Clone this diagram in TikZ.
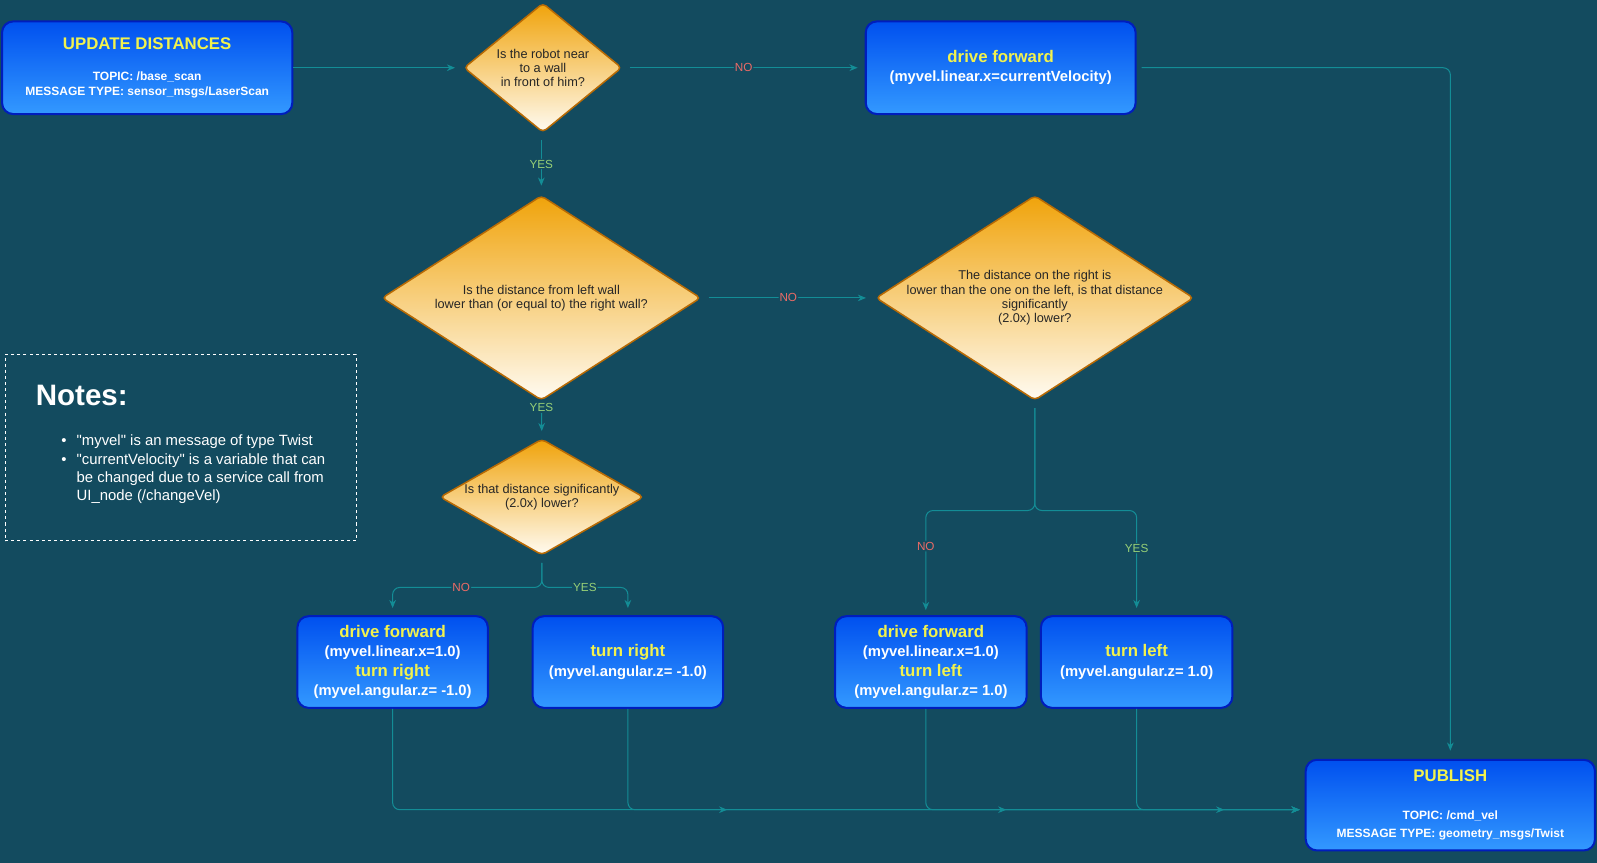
\documentclass[tikz,border=0pt]{standalone}
\usepackage{fontspec}
\setmainfont{Liberation Sans}[Ligatures=TeXOff]
\usetikzlibrary{shapes.geometric,arrows.meta,decorations.markings,calc}
\definecolor{bg}{HTML}{134B5F}
\definecolor{edge}{HTML}{138D96}
\definecolor{boxtop}{HTML}{0050EF}
\definecolor{boxbot}{HTML}{3399FF}
\definecolor{boxline}{HTML}{001DBC}
\definecolor{dtop}{HTML}{F0A30A}
\definecolor{dbot}{HTML}{FFFBF2}
\definecolor{dline}{HTML}{B86A04}
\definecolor{ttl}{HTML}{F2F24D}
\definecolor{nocol}{HTML}{EA6B66}
\definecolor{yescol}{HTML}{97D077}
\newcommand\boxtitle[1]{{\color{ttl}\fontsize{16.5}{19}\selectfont #1}}
\begin{document}
\begin{tikzpicture}[x=1pt,y=-1pt,
  box/.style={draw=boxline, line width=2pt, rounded corners=11pt, top color=boxtop, bottom color=boxbot, text=white, font=\bfseries\fontsize{14.5}{19}\selectfont, align=center, inner sep=0pt},
  smallbox/.style={box, font=\bfseries\fontsize{11.8}{14}\selectfont},
  dia/.style={diamond, draw=dline, line width=1.5pt, rounded corners=4pt, top color=dtop, bottom color=dbot, inner sep=0pt},
  dtext/.style={font=\fontsize{12.5}{14}\selectfont, text=black!85, align=center, inner sep=0pt},
  flow/.style={draw, color=edge, line width=1pt, rounded corners=7pt, -{Stealth[length=8pt,width=6.5pt]}},
  lab/.style={font=\fontsize{11.5}{12}\selectfont, fill=bg, inner sep=1pt},
  midarrow/.style={postaction={decorate}, decoration={markings, mark=at position -#1pt with {\arrow{Stealth[length=8pt,width=6.5pt]}}}}
]
\fill[bg] (0,0) rectangle (1568,847);
\useasboundingbox (0,0) rectangle (1568,847);

% boxes
\node[smallbox, minimum width=285pt, minimum height=91pt] (upd) at (144.5,66.5)
  {\boxtitle{UPDATE DISTANCES}\\[17pt]TOPIC: /base\_scan\\MESSAGE TYPE: sensor\_msgs/LaserScan};
\node[box, minimum width=265pt, minimum height=91pt] (df1) at (982.5,66.5)
  {\boxtitle{drive forward}\\(myvel.linear.x=currentVelocity)};
\node[box, minimum width=187pt, minimum height=90pt] (A) at (385.5,650)
  {\boxtitle{drive forward}\\(myvel.linear.x=1.0)\\\boxtitle{turn right}\\(myvel.angular.z= -1.0)};
\node[box, minimum width=187pt, minimum height=90pt] (B) at (616.5,650)
  {\boxtitle{turn right}\\(myvel.angular.z= -1.0)};
\node[box, minimum width=188pt, minimum height=90pt] (C) at (914,650)
  {\boxtitle{drive forward}\\(myvel.linear.x=1.0)\\\boxtitle{turn left}\\(myvel.angular.z= 1.0)};
\node[box, minimum width=188pt, minimum height=90pt] (D) at (1116,650)
  {\boxtitle{turn left}\\(myvel.angular.z= 1.0)};
\node[box, font=\bfseries\fontsize{11.8}{18}\selectfont, minimum width=284pt, minimum height=89pt] (pub) at (1424,790.5)
  {\boxtitle{PUBLISH}\\[19pt]TOPIC: /cmd\_vel\\MESSAGE TYPE: geometry\_msgs/Twist};

% decisions
\node[dia, minimum width=155pt, minimum height=127pt] (d1) at (533,66.5) {};
\node[dtext] (d1t) at (d1) {Is the robot near\\to a wall\\in front of him?};
\node[dia, minimum width=313pt, minimum height=201pt] (d2) at (531.5,292.5) {};
\node[dtext] (d2t) at (d2) {Is the distance from left wall\\lower than (or equal to) the right wall?};
\node[dia, minimum width=312pt, minimum height=201pt] (d3) at (1016,292.5) {};
\node[dtext] (d3t) at (d3) {The distance on the right is\\lower than the one on the left, is that distance\\significantly\\(2.0x) lower?};
\node[dia, minimum width=200pt, minimum height=114pt] (d4) at (532,488) {};
\node[dtext] (d4t) at (d4) {Is that distance significantly\\(2.0x) lower?};

% notes
\node[draw=white, dashed, line width=0.7pt, minimum width=345pt, minimum height=183pt, inner sep=0pt] (notes) at (177.5,439.5) {};
\node[anchor=west, font=\bfseries\fontsize{29}{32}\selectfont, text=white, inner sep=0pt] (notest) at (35,388) {Notes:};
\node[anchor=north west, text=white, font=\fontsize{14.6}{18}\selectfont, inner sep=0pt] (notesl) at (60,425)
  {\begin{tabular}{@{}l@{\hspace{10pt}}l@{}}
   •&"myvel" is an message of type Twist\\
   •&"currentVelocity" is a variable that can\\
    &be changed due to a service call from\\
    &UI\_node (/changeVel)
   \end{tabular}};

% connectors
\draw[flow, shorten >=8pt] (upd) -- (d1);
\draw[flow, shorten <=7pt, shorten >=7pt] (d1) -- node[lab, text=nocol]{NO} (df1);
\draw[flow, shorten <=5pt, shorten >=8pt] (df1.east) -| (pub.north);
\draw[flow, shorten <=7pt, shorten >=9pt] (d2 |- d1.south) -- node[lab, text=yescol]{YES} (d2.north);
\draw[flow, shorten <=7pt, shorten >=9pt] (d2) -- node[lab, text=nocol]{NO} (d3);
\draw[flow, shorten <=7pt, shorten >=7pt] (d2.south) -- node[lab, text=yescol, pos=0.18]{YES} (d4.north);

\coordinate (j4) at ($(d4.south)+(0,31)$);
\draw[flow, shorten <=7pt, shorten >=7pt] (d4.south) -- (j4) -| node[lab, text=nocol, pos=0.27]{NO} (A.north);
\draw[flow, shorten <=7pt, shorten >=7pt] (d4.south) -- (j4) -| node[lab, text=yescol, pos=0.25]{YES} (B.north);

\coordinate (j3) at ($(d3.south)+(0,107.5)$);
\coordinate (cin) at ($(C.north)+(-5,0)$);
\coordinate (cout) at ($(C.south)+(-5,0)$);
\draw[flow, shorten <=7pt, shorten >=5pt] (d3.south) -- (j3) -| node[lab, text=nocol, pos=0.67]{NO} (cin);
\draw[flow, shorten <=7pt, shorten >=7pt] (d3.south) -- (j3) -| node[lab, text=yescol, pos=0.68]{YES} (D.north);

\coordinate (pin) at ($(pub.west)+(-5,4.5)$);
\draw[flow] (A.south) |- (pin);
\draw[flow, midarrow=562] (B.south) |- (pin);
\draw[flow, midarrow=288] (cout) |- (pin);
\draw[flow, midarrow=74] (D.south) |- (pin);
\end{tikzpicture}
\end{document}
